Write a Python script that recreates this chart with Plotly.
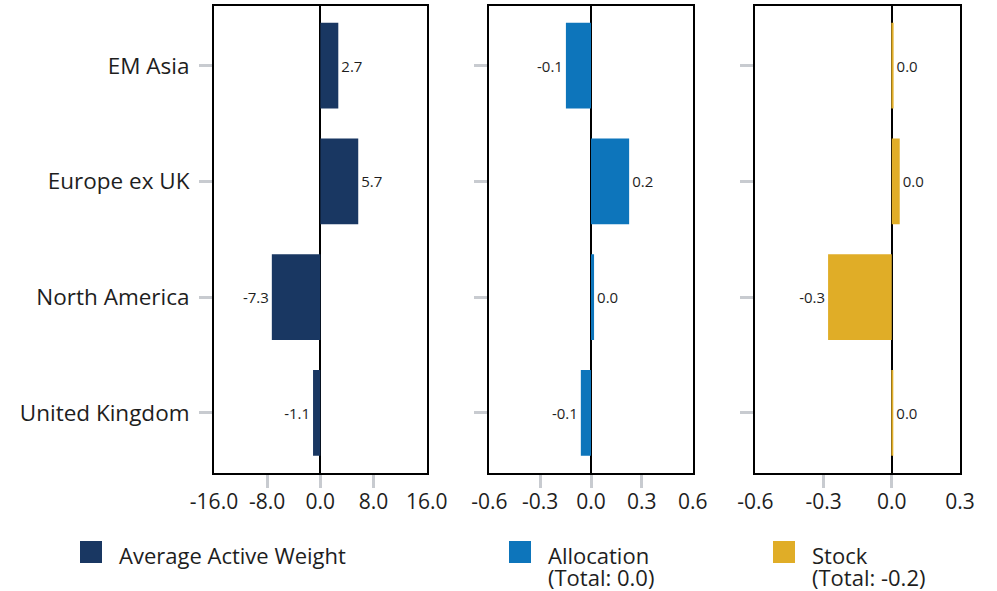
import plotly.graph_objects as go

categories = ["EM Asia", "Europe ex UK", "North America", "United Kingdom"]
active_weight = [2.7, 5.7, -7.3, -1.1]
allocation = [-0.148, 0.225, 0.018, -0.06]
stock = [0.008, 0.035, -0.28, 0.005]

series_names = ["Average Active Weight", "Allocation", "Stock"]
series_totals = ["", "(Total: 0.0)", "(Total: -0.2)"]
colors = ["#193762", "#0d75bb", "#e0ad27"]

x_ticks = [
    [-16, -8, 0, 8, 16],
    [-0.6, -0.3, 0, 0.3, 0.6],
    [-0.6, -0.3, 0, 0.3],
]
x_ticktext = [
    ["-16.0", "-8.0", "0.0", "8.0", "16.0"],
    ["-0.6", "-0.3", "0.0", "0.3", "0.6"],
    ["-0.6", "-0.3", "0.0", "0.3"],
]
x_ranges = [[-16, 16], [-0.6, 0.6], [-0.6, 0.3]]

W, H = 997, 591
FONT = "Open Sans"
TXT = "#1e1e1e"
x_domains = [[214 / W, 426.7 / W], [489.3 / W, 692.7 / W], [755.3 / W, 960 / W]]
y_domain = [(H - 473) / H, (H - 5.5) / H]

fig = go.Figure()
data = [active_weight, allocation, stock]
for i, vals in enumerate(data):
    ax = "" if i == 0 else str(i + 1)
    fig.add_trace(go.Bar(
        x=vals, y=categories, orientation="h",
        marker=dict(color=colors[i], line=dict(width=0)),
        width=0.74,
        texttemplate="%{x:.1f}", textposition="outside",
        textfont=dict(family=FONT, size=15, color=TXT),
        cliponaxis=False, showlegend=False,
        xaxis="x" + ax, yaxis="y" + ax,
        hoverinfo="skip",
    ))
    minor_vals = [v for v in x_ticks[i] if x_ranges[i][0] < v < x_ranges[i][1]]
    fig.update_layout(**{
        "xaxis" + ax: dict(
            domain=x_domains[i], range=x_ranges[i],
            tickvals=x_ticks[i], ticktext=x_ticktext[i],
            ticks="outside", ticklen=0, tickwidth=0,
            minor=dict(tickvals=minor_vals, ticks="outside", ticklen=13, tickwidth=3, tickcolor="#c8cbd0"),
            showgrid=False, zeroline=True, zerolinecolor="black", zerolinewidth=2,
            showline=True, linecolor="black", linewidth=2, mirror=True,
            tickfont=dict(family=FONT, size=21, color=TXT),
            anchor="y" + ax, fixedrange=True, ticklabelstandoff=9,
            automargin=False,
        ),
        "yaxis" + ax: dict(
            domain=y_domain, categoryorder="array", categoryarray=categories,
            range=[3.52, -0.52], showticklabels=(i == 0),
            ticks="outside", ticklen=13, tickwidth=3, tickcolor="#c8cbd0",
            showgrid=False, showline=True, linecolor="black", linewidth=2, mirror=True,
            tickfont=dict(family=FONT, size=22.5, color=TXT),
            anchor="x" + ax, ticklabelstandoff=5, fixedrange=True,
            automargin=False,
        ),
    })

# legend drawn manually
leg_x = [80, 509, 773]
for i in range(3):
    fig.add_shape(type="rect", xref="paper", yref="paper",
                  x0=leg_x[i] / W, x1=(leg_x[i] + 22) / W,
                  y0=(H - 563) / H, y1=(H - 541) / H,
                  fillcolor=colors[i], line=dict(width=0))
    for j, line in enumerate([series_names[i], series_totals[i]]):
        if not line:
            continue
        fig.add_annotation(x=(leg_x[i] + 37) / W, y=(H - 555 - 22 * j) / H,
                           xref="paper", yref="paper",
                           text=line, showarrow=False, xanchor="left", yanchor="middle",
                           align="left", font=dict(family=FONT, size=22, color=TXT))

fig.update_layout(
    width=W, height=H, margin=dict(l=0, r=0, t=0, b=0, autoexpand=False),
    plot_bgcolor="white", paper_bgcolor="white",
    showlegend=False, bargap=0.26,
)
fig.write_html("out.html", config={"displayModeBar": False},
               post_script="document.body.style.margin='0';document.body.style.overflow='hidden';")
